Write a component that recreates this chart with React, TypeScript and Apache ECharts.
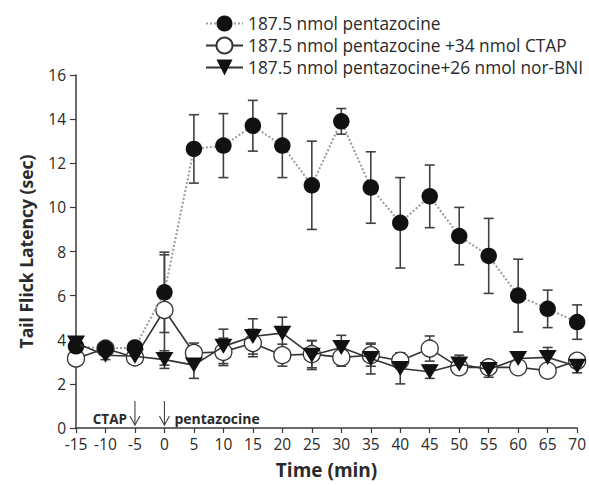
import React, { useEffect, useRef } from "react";
import * as echarts from "echarts";

const times = [-15, -10, -5, 0, 5, 10, 15, 20, 25, 30, 35, 40, 45, 50, 55, 60, 65, 70];
const pzMean = [3.7, 3.6, 3.65, 6.15, 12.65, 12.8, 13.7, 12.8, 11.0, 13.9, 10.9, 9.3, 10.5, 8.7, 7.8, 6.0, 5.4, 4.8];
const pzErr = [0.2, 0.15, 0.2, 1.82, 1.55, 1.45, 1.15, 1.45, 2.0, 0.58, 1.62, 2.05, 1.42, 1.3, 1.7, 1.65, 0.85, 0.78];
const ctapMean = [3.15, 3.6, 3.2, 5.35, 3.4, 3.45, 3.85, 3.3, 3.35, 3.2, 3.3, 3.05, 3.6, 2.75, 2.75, 2.75, 2.6, 3.05];
const ctapErr = [0.2, 0.15, 0.2, 2.5, 0.45, 0.62, 0.62, 0.5, 0.62, 0.4, 0.5, 0.35, 0.57, 0.3, 0.3, 0.25, 0.3, 0.3];
const nbMean = [3.85, 3.3, 3.25, 3.1, 2.85, 3.7, 4.15, 4.3, 3.3, 3.65, 3.15, 2.7, 2.55, 2.9, 2.65, 3.15, 3.2, 2.8];
const nbErr = [0.2, 0.2, 0.2, 0.4, 0.6, 0.78, 0.8, 0.72, 0.65, 0.55, 0.7, 0.7, 0.3, 0.4, 0.35, 0.3, 0.45, 0.3];

const seriesNames = [
  "187.5 nmol pentazocine",
  "187.5 nmol pentazocine +34 nmol CTAP",
  "187.5 nmol pentazocine+26 nmol nor-BNI",
];
const yTicks = { min: 0, max: 16, interval: 2 };
const xTicks = { min: -15, max: 70, interval: 5 };
const annotations = { ctapTime: -5, pzTime: 0, ctapLabel: "CTAP", pzLabel: "pentazocine" };

const FONT = "Open Sans";
const AX = "#3a3a3a";
const TXT = "#2a2a2a";

function errData(mean: number[], err: number[]) {
  return times.map((t, i) => [t, mean[i], err[i]]);
}

function errSeries(mean: number[], err: number[]) {
  return {
    type: "custom",
    silent: true,
    z: 1,
    data: errData(mean, err),
    encode: { x: 0, y: 1 },
    renderItem: (params: any, api: any) => {
      const x = api.value(0);
      const y = api.value(1);
      const e = api.value(2);
      const top = api.coord([x, y + e]);
      const bot = api.coord([x, y - e]);
      const w = 5;
      const st = { stroke: "#404040", lineWidth: 1.6 };
      return {
        type: "group",
        children: [
          { type: "line", shape: { x1: top[0], y1: top[1], x2: bot[0], y2: bot[1] }, style: st },
          { type: "line", shape: { x1: top[0] - w, y1: top[1], x2: top[0] + w, y2: top[1] }, style: st },
          { type: "line", shape: { x1: bot[0] - w, y1: bot[1], x2: bot[0] + w, y2: bot[1] }, style: st },
        ],
      };
    },
  };
}

export default function App() {
  const ref = useRef<HTMLDivElement>(null);
  useEffect(() => {
    if (!ref.current) return;
    const chart = echarts.init(ref.current, undefined, { renderer: "svg" });
    const option: any = {
      animation: false,
      backgroundColor: "#ffffff",
      textStyle: { fontFamily: FONT },
      legend: {
        orient: "vertical",
        left: 205,
        top: 15,
        padding: 0,
        itemWidth: 37,
        itemHeight: 20,
        itemGap: 4.5,
        data: seriesNames,
        textStyle: { fontFamily: FONT, fontSize: 17.3, color: TXT },
      },
      grid: { left: 76, right: 6, top: 75, bottom: 58, containLabel: false },
      xAxis: {
        type: "value",
        min: xTicks.min,
        max: xTicks.max,
        interval: xTicks.interval,
        name: "Time (min)",
        nameLocation: "middle",
        nameGap: 32,
        nameTextStyle: { fontFamily: FONT, fontWeight: "bold", fontSize: 19, color: TXT },
        axisLine: { onZero: false, lineStyle: { color: AX, width: 1.5 } },
        axisTick: { show: true, inside: false, length: 5, lineStyle: { color: AX, width: 1.2 } },
        axisLabel: { fontFamily: FONT, fontSize: 15.5, color: TXT, margin: 8, showMinLabel: true, showMaxLabel: true },
        splitLine: { show: false },
      },
      yAxis: {
        type: "value",
        min: yTicks.min,
        max: yTicks.max,
        interval: yTicks.interval,
        name: "Tail Flick Latency (sec)",
        nameLocation: "middle",
        nameGap: 41,
        nameTextStyle: { fontFamily: FONT, fontWeight: "bold", fontSize: 17.5, color: TXT },
        axisLine: { show: true, onZero: false, lineStyle: { color: AX, width: 1.5 } },
        axisTick: { show: true, inside: false, length: 6, lineStyle: { color: AX, width: 1.2 } },
        axisLabel: { fontFamily: FONT, fontSize: 15.5, color: TXT, margin: 10 },
        splitLine: { show: false },
      },
      series: [
        errSeries(pzMean, pzErr),
        errSeries(ctapMean, ctapErr),
        errSeries(nbMean, nbErr),
        {
          name: seriesNames[1],
          type: "line",
          z: 3,
          data: times.map((t, i) => [t, ctapMean[i]]),
          symbol: "circle",
          symbolSize: 17,
          itemStyle: { color: "#ffffff", borderColor: "#333333", borderWidth: 1.3 },
          lineStyle: { color: "#333333", width: 1.6, type: "solid" },
        },
        {
          name: seriesNames[0],
          type: "line",
          z: 4,
          data: times.map((t, i) => [t, pzMean[i]]),
          symbol: "circle",
          symbolSize: 16.5,
          itemStyle: { color: "#111111", borderColor: "#111111", borderWidth: 0 },
          lineStyle: { color: "#9a9a9a", width: 2, type: "dotted" },
        },
        {
          name: seriesNames[2],
          type: "line",
          z: 5,
          data: times.map((t, i) => [t, nbMean[i]]),
          symbol: "triangle",
          symbolRotate: 180,
          symbolSize: [18, 15],
          itemStyle: { color: "#111111" },
          lineStyle: { color: "#333333", width: 1.6, type: "solid" },
        },
      ],
    };
    chart.setOption(option);

    const arrowAt = (t: number) => {
      const [px] = chart.convertToPixel({ gridIndex: 0 }, [t, 0]);
      const y1 = 401;
      const y2 = 425;
      const st = { stroke: "#444444", lineWidth: 1.1, fill: null };
      return [
        { type: "line", shape: { x1: px, y1, x2: px, y2 }, style: st, z: 10 },
        { type: "polyline", shape: { points: [[px - 5, y2 - 9], [px, y2], [px + 5, y2 - 9]] }, style: st, z: 10 },
      ];
    };
    const [cx] = chart.convertToPixel({ gridIndex: 0 }, [annotations.ctapTime, 0]);
    const [px0] = chart.convertToPixel({ gridIndex: 0 }, [annotations.pzTime, 0]);
    chart.setOption({
      graphic: [
        ...arrowAt(annotations.ctapTime),
        ...arrowAt(annotations.pzTime),
        {
          type: "text",
          x: cx - 8,
          y: 419,
          z: 10,
          style: {
            text: annotations.ctapLabel,
            fontFamily: FONT,
            fontWeight: "bold",
            fontSize: 13.5,
            fill: TXT,
            align: "right",
            verticalAlign: "middle",
          },
        },
        {
          type: "text",
          x: px0 + 10,
          y: 418,
          z: 10,
          style: {
            text: annotations.pzLabel,
            fontFamily: FONT,
            fontWeight: "bold",
            fontSize: 14,
            fill: TXT,
            align: "left",
            verticalAlign: "middle",
          },
        },
      ],
    });
    return () => chart.dispose();
  }, []);
  return <div ref={ref} style={{ width: 589, height: 486, position: "absolute", left: 0, top: 0 }} />;
}
